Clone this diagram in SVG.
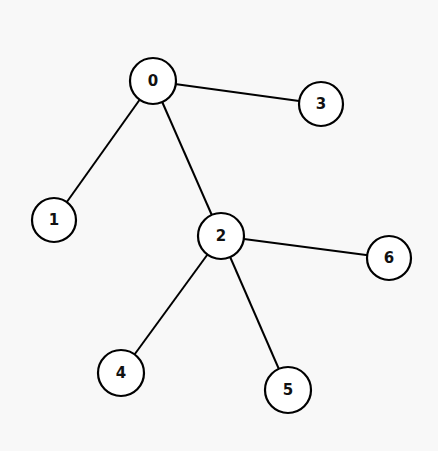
<svg xmlns="http://www.w3.org/2000/svg" width="438" height="451" viewBox="0 0 438 451">
<style>
.bg{fill:#f8f8f8}
.edge{stroke:#000;stroke-width:2;fill:none}
.node circle{fill:#fff;stroke:#000;stroke-width:2.2}
.node text{font-family:"DejaVu Sans",Verdana,sans-serif;font-weight:bold;font-size:15px;text-anchor:middle;dominant-baseline:central;fill:#111}
</style>
<rect class="bg" width="438" height="451"/>
<g id="edges">
<line class="edge" x1="153" y1="81" x2="321" y2="104"/>
<line class="edge" x1="153" y1="81" x2="54" y2="220"/>
<line class="edge" x1="153" y1="81" x2="221" y2="236"/>
<line class="edge" x1="221" y1="236" x2="389" y2="258"/>
<line class="edge" x1="221" y1="236" x2="121" y2="373"/>
<line class="edge" x1="221" y1="236" x2="288" y2="390"/>
</g>
<g id="node0" class="node"><circle cx="153" cy="81" r="23"/><text x="153" y="81">0</text></g>
<g id="node3" class="node"><circle cx="321" cy="104" r="22"/><text x="321" y="104">3</text></g>
<g id="node1" class="node"><circle cx="54" cy="220" r="22"/><text x="54" y="220">1</text></g>
<g id="node2" class="node"><circle cx="221" cy="236" r="23"/><text x="221" y="236">2</text></g>
<g id="node6" class="node"><circle cx="389" cy="258" r="22"/><text x="389" y="258">6</text></g>
<g id="node4" class="node"><circle cx="121" cy="373" r="23"/><text x="121" y="373">4</text></g>
<g id="node5" class="node"><circle cx="288" cy="390" r="23"/><text x="288" y="390">5</text></g>
</svg>
